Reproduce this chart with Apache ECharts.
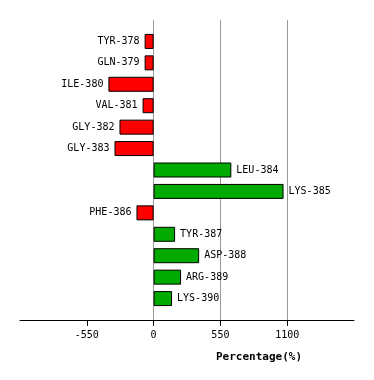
<!DOCTYPE html>
<html><head><meta charset="utf-8">
<script src="https://cdn.jsdelivr.net/npm/echarts@6/dist/echarts.min.js"></script>
<style>html,body{margin:0;padding:0;background:#fff}#c{width:374px;height:380px}</style>
</head><body><div id="c"></div>
<script>
const categories = ['TYR-378','GLN-379','ILE-380','VAL-381','GLY-382','GLY-383','LEU-384','LYS-385','PHE-386','TYR-387','ASP-388','ARG-389','LYS-390'];
const values = [-74, -74, -372, -91, -281, -322, 640, 1070, -141, 177, 375, 226, 152];
const tickValues = [-550, 0, 550, 1100];

const font = 'DejaVu Sans Mono';
const yCats = [''].concat(categories, ['']);
const data = ['-'].concat(values.map((v, i) => ({
  value: v,
  name: categories[i],
  itemStyle: { color: v < 0 ? '#ff0000' : '#00aa00' },
  label: { position: v < 0 ? 'left' : 'right' }
})), ['-']);

const chart = echarts.init(document.getElementById('c'), null, { renderer: 'canvas' });
chart.setOption({
  animation: false,
  backgroundColor: '#ffffff',
  grid: { left: 20, right: 20, top: 20, bottom: 60, containLabel: false },
  title: {
    text: 'Percentage(%)', left: 254, top: 347, textAlign: 'center',
    textStyle: { fontFamily: font, fontSize: 11, fontWeight: 'bold', color: '#000' }
  },
  xAxis: {
    type: 'value', min: -1100, max: 1650, interval: 550,
    axisLine: { show: true, lineStyle: { color: '#000', width: 1 } },
    axisTick: { show: true, length: 6, customValues: tickValues, lineStyle: { color: '#000' } },
    axisLabel: { customValues: tickValues, formatter: v => String(v), margin: 10, fontFamily: font, fontSize: 10, color: '#000' },
    splitLine: { show: true, lineStyle: { color: ['rgba(0,0,0,0)', '#999', '#999', '#999', '#999', 'rgba(0,0,0,0)'], width: 1 } }
  },
  yAxis: {
    type: 'category', data: yCats, inverse: true, boundaryGap: false,
    axisLine: { show: false }, axisTick: { show: false }, axisLabel: { show: false }, splitLine: { show: false }
  },
  series: [{
    type: 'bar', data: data, barWidth: 15,
    itemStyle: { borderColor: '#000', borderWidth: 1 },
    label: { show: true, formatter: p => p.name, distance: 5, fontFamily: font, fontSize: 10, color: '#000' }
  }]
});
</script></body></html>
